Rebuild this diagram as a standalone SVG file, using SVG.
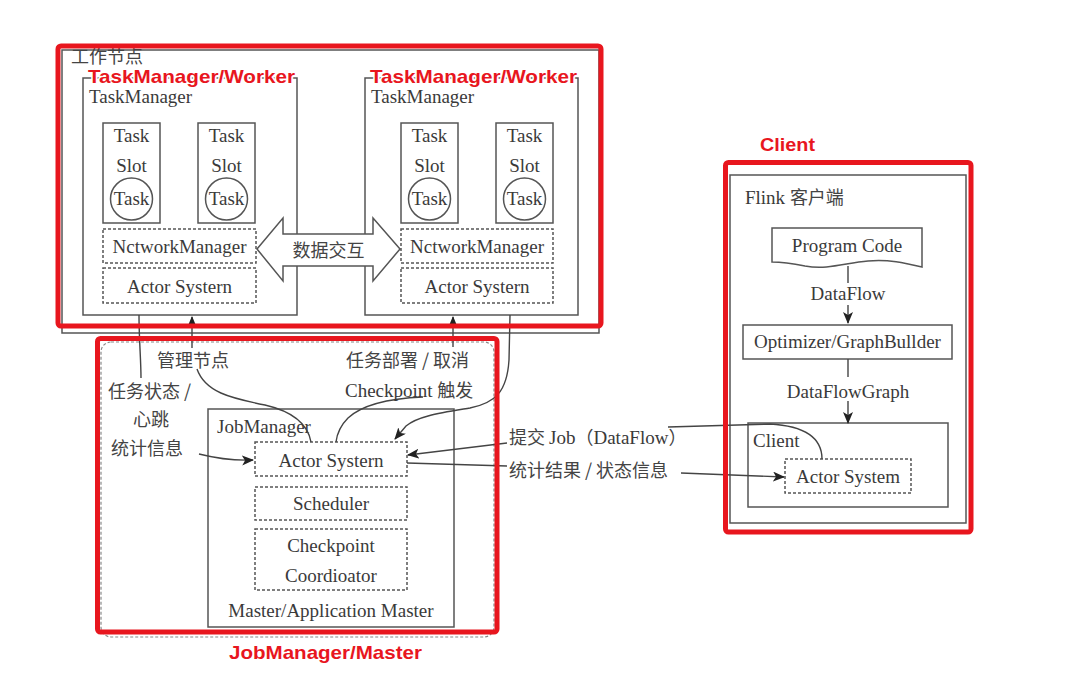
<svg xmlns="http://www.w3.org/2000/svg" width="1074" height="686" viewBox="0 0 1074 686">
<defs>
<style>
.box{fill:none;stroke:#555;stroke-width:1.5}
.dash{fill:none;stroke:#555;stroke-width:1.5;stroke-dasharray:3 2}
.ln{fill:none;stroke:#444;stroke-width:1.4}
.t{font-family:"Liberation Serif","Noto Sans CJK SC",serif;font-size:19px;fill:#3a3a3a}
.c{font-family:"Noto Sans CJK SC","Liberation Serif",sans-serif;font-size:18px;fill:#444}
.mid{text-anchor:middle}
.red{fill:none;stroke:#e8161e;stroke-width:5}
.lbl{font-family:"Liberation Sans","Noto Sans",sans-serif;font-weight:bold;font-size:19px;fill:#e8161e;stroke:#fff;stroke-width:3;paint-order:stroke;stroke-linejoin:round}
</style>
<marker id="ah" viewBox="0 0 12 10" refX="11" refY="5" markerWidth="12" markerHeight="10" markerUnits="userSpaceOnUse" orient="auto">
<path d="M0,0 L12,5 L0,10 L3,5 z" fill="#222"/>
</marker>
</defs>
<rect width="1074" height="686" fill="#fff"/>

<g id="worker-area">
<rect class="box" x="62" y="50" width="537" height="283" stroke="#777"/>
<text class="c" x="71" y="63" font-size="16" fill="#666">工作节点</text>
</g>

<g id="taskmanager-left">
<rect class="box" x="83" y="78" width="214" height="237"/>
<text class="t" x="89" y="103">TaskManager</text>
<rect class="box" x="103" y="123" width="57" height="100"/>
<text class="t mid" x="131.5" y="142">Task</text>
<text class="t mid" x="131.5" y="172">Slot</text>
<circle class="box" cx="131.5" cy="199" r="21"/>
<text class="t mid" x="131.5" y="205">Task</text>
<rect class="box" x="198" y="123" width="57" height="100"/>
<text class="t mid" x="226.5" y="142">Task</text>
<text class="t mid" x="226.5" y="172">Slot</text>
<circle class="box" cx="226.5" cy="199" r="21"/>
<text class="t mid" x="226.5" y="205">Task</text>
<rect class="dash" x="103" y="229" width="153" height="34"/>
<text class="t mid" x="179.5" y="253">NctworkManager</text>
<rect class="dash" x="103" y="268" width="153" height="35"/>
<text class="t mid" x="179.5" y="293">Actor Systern</text>
</g>

<g id="taskmanager-right">
<rect class="box" x="365" y="78" width="213" height="237"/>
<text class="t" x="371" y="103">TaskManager</text>
<rect class="box" x="401" y="123" width="57" height="100"/>
<text class="t mid" x="429.5" y="142">Task</text>
<text class="t mid" x="429.5" y="172">Slot</text>
<circle class="box" cx="429.5" cy="199" r="21"/>
<text class="t mid" x="429.5" y="205">Task</text>
<rect class="box" x="496" y="123" width="57" height="100"/>
<text class="t mid" x="524.5" y="142">Task</text>
<text class="t mid" x="524.5" y="172">Slot</text>
<circle class="box" cx="524.5" cy="199" r="21"/>
<text class="t mid" x="524.5" y="205">Task</text>
<rect class="dash" x="401" y="229" width="152" height="34"/>
<text class="t mid" x="477" y="253">NctworkManager</text>
<rect class="dash" x="401" y="268" width="152" height="35"/>
<text class="t mid" x="477" y="293">Actor Systern</text>
</g>

<g id="data-exchange">
<polygon points="257,249 283,218 283,234 373,234 373,218 400,249 373,281 373,266 283,266 283,281" fill="#fff" stroke="#555" stroke-width="1.5"/>
<text class="c mid" x="328.5" y="257">数据交互</text>
</g>

<g id="jobmanager-area">
<rect x="101" y="342" width="393" height="295" rx="10" fill="none" stroke="#888" stroke-width="1.2" stroke-dasharray="3 2"/>
</g>

<g id="jobmanager">
<rect class="box" x="208" y="409" width="246" height="218"/>
<text class="t" x="217" y="433">JobManager</text>
<rect class="dash" x="255" y="442" width="152" height="34"/>
<text class="t mid" x="331" y="467">Actor Systern</text>
<rect class="dash" x="255" y="487" width="152" height="33"/>
<text class="t mid" x="331" y="510">Scheduler</text>
<rect class="dash" x="255" y="529" width="152" height="61"/>
<text class="t mid" x="331" y="552">Checkpoint</text>
<text class="t mid" x="331" y="582">Coordioator</text>
<text class="t mid" x="331" y="617">Master/Application Master</text>
</g>

<g id="client-area">
<rect class="box" x="730" y="175" width="236" height="348"/>
<text class="t" x="745" y="204">Flink <tspan class="c" font-size="18">客户端</tspan></text>
</g>

<g id="program-code">
<path class="box" d="M772,228 H922 V267 C905,263 888,259 868,261 C845,263 828,270 805,266 C790,263 780,262 772,262 Z"/>
<text class="t mid" x="847" y="252">Program Code</text>
</g>

<g id="optimizer">
<rect class="box" x="743" y="325" width="209" height="34"/>
<text class="t mid" x="847.5" y="348">Optimizer/GraphBullder</text>
</g>

<g id="client">
<rect class="box" x="748" y="423" width="200" height="84"/>
<text class="t" x="753" y="447">Client</text>
<rect class="dash" x="785" y="459" width="126" height="34"/>
<text class="t mid" x="848" y="483">Actor System</text>
</g>

<g id="connectors">
<path class="ln" d="M848,266 V283"/>
<path class="ln" d="M848,305 V323" marker-end="url(#ah)"/>
<path class="ln" d="M848,359 V377"/>
<path class="ln" d="M848,401 V423" marker-end="url(#ah)"/>
<path class="ln" d="M139,315 C139,340 141,360 141,378"/>
<path class="ln" d="M199,454 C215,458 232,461 253,460" marker-end="url(#ah)"/>
<path class="ln" d="M192,348 V317" marker-end="url(#ah)"/>
<path class="ln" d="M197,369 C205,392 230,398 265,405 C295,412 308,425 311,442"/>
<path class="ln" d="M453,347 V317" marker-end="url(#ah)"/>
<path class="ln" d="M423,397 C400,398 365,402 348,418 C340,426 337,434 336,442"/>
<path class="ln" d="M510,315 L509,360 C507,392 495,403 470,408 C440,413 418,416 406,426 L395,439" marker-end="url(#ah)"/>
<path class="ln" d="M822,459 C822,438 805,426 770,424 L668,427"/>
<path class="ln" d="M507,443 L408,455" marker-end="url(#ah)"/>
<path class="ln" d="M407,463 L507,466"/>
<path class="ln" d="M681,473 L784,477" marker-end="url(#ah)"/>
</g>

<g id="connector-labels">
<text class="c" x="108" y="398">任务状态 /</text>
<text class="c mid" x="151" y="426">心跳</text>
<text class="c" x="111" y="455">统计信息</text>
<text class="c" x="157" y="367">管理节点</text>
<text class="c" x="346" y="367">任务部署 / 取消</text>
<text class="t" x="345" y="397">Checkpoint <tspan class="c" font-size="18">触发</tspan></text>
<text class="c" x="509" y="444">提交 <tspan class="t">Job</tspan>（<tspan class="t">DataFlow</tspan>）</text>
<text class="c" x="509" y="477">统计结果 / 状态信息</text>
<text class="t mid" x="848" y="300">DataFlow</text>
<text class="t mid" x="848" y="398">DataFlowGraph</text>
</g>

<g id="annotations">
<rect class="red" x="58" y="46" width="543" height="280" rx="3"/>
<rect class="red" x="97.5" y="338.5" width="399.5" height="293.5" rx="3"/>
<rect class="red" x="725.5" y="162.5" width="245.5" height="369.5" rx="3"/>
<text class="lbl" x="88" y="83" textLength="207" lengthAdjust="spacingAndGlyphs">TaskManager/Worker</text>
<text class="lbl" x="370" y="83" textLength="207" lengthAdjust="spacingAndGlyphs">TaskManager/Worker</text>
<text class="lbl" x="760" y="151" textLength="55" lengthAdjust="spacingAndGlyphs">Client</text>
<text class="lbl" x="229" y="659" textLength="193" lengthAdjust="spacingAndGlyphs">JobManager/Master</text>
</g>
</svg>
